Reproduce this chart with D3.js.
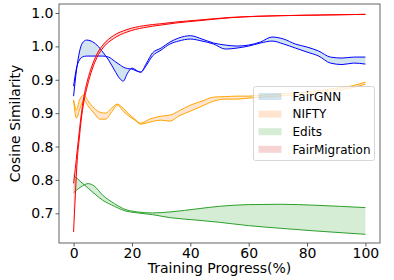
<!DOCTYPE html>
<html><head><meta charset="utf-8">
<script src="https://cdn.jsdelivr.net/npm/d3@7"></script>
<style>html,body{margin:0;padding:0;background:#fff;}svg{display:block;font-family:"DejaVu Sans",sans-serif;}</style>
</head><body>
<svg id="c" width="394" height="280"></svg>
<script>
// ---- data ----
const methods = ["FairGNN", "NIFTY", "Edits", "FairMigration"];

const fairgnnX = [0,1,2,3,4.5,6,8,10,12,14,16,17,18.5,20,22,23,25,27,30,33,36,40,44,48,52,56,60,64,68,72,76,80,84,88,92,96,100];
const fairgnnA = [0.8755,0.9145,0.9415,0.955,0.9595,0.958,0.952,0.9415,0.9295,0.9145,0.901,0.898,0.91,0.9175,0.913,0.9115,0.925,0.94,0.9475,0.9565,0.9625,0.966,0.961,0.955,0.952,0.9505,0.952,0.9565,0.964,0.961,0.9535,0.949,0.943,0.934,0.9325,0.934,0.934];
const fairgnnB = [0.8905,0.9175,0.9295,0.934,0.9355,0.9355,0.9355,0.9355,0.934,0.928,0.922,0.919,0.9168,0.916,0.9123,0.9115,0.922,0.9355,0.9445,0.9535,0.958,0.961,0.958,0.9535,0.946,0.9475,0.9505,0.955,0.958,0.9535,0.9475,0.9415,0.9355,0.925,0.9228,0.925,0.9235];

const niftyX = [0,1,2,3.5,5,7,9,11,13,15,17,19,21,23,26,30,33,36,40,44,48,52,56,60,65,70,75,80,85,90,95,100];
const niftyA = [0.8695,0.8545,0.8695,0.877,0.868,0.8575,0.8515,0.85,0.8575,0.8635,0.8575,0.8485,0.841,0.835,0.841,0.8455,0.847,0.853,0.862,0.868,0.874,0.8748,0.8755,0.8755,0.877,0.8785,0.88,0.8815,0.8845,0.8875,0.8905,0.8965];
const niftyB = [0.8695,0.8425,0.8545,0.8695,0.8605,0.85,0.841,0.841,0.8515,0.862,0.853,0.8455,0.8395,0.8335,0.8365,0.8395,0.838,0.8455,0.853,0.8605,0.868,0.871,0.871,0.8725,0.874,0.8755,0.877,0.8785,0.8815,0.8845,0.8875,0.8935];

const editsX = [0,2.5,5,7,10,14,17,22,27,33,43,50,60,71,83,100];
const editsA = [0.757,0.747,0.7375,0.730,0.7195,0.7105,0.7045,0.7005,0.698,0.6935,0.6895,0.6865,0.6815,0.6775,0.6735,0.6685];
const editsB = [0.731,0.7395,0.7445,0.741,0.727,0.7145,0.707,0.702,0.7005,0.702,0.707,0.7105,0.713,0.7135,0.712,0.7085];

const migX = [0,0.6,1.25,2,2.6,3.5,4.7,6.4,8,10.3,13.7,18.3,24,30,35,43,54,71,85,100];
const migA = [0.672,0.727,0.7795,0.814,0.8395,0.8665,0.8905,0.916,0.9333,0.949,0.9617,0.9715,0.978,0.982,0.985,0.9885,0.993,0.996,0.997,0.998];
const migB = [0.745,0.7675,0.7945,0.8245,0.847,0.874,0.898,0.922,0.9385,0.9535,0.9662,0.9752,0.981,0.984,0.9865,0.9895,0.9935,0.996,0.997,0.998];

const xTicks = [0,20,40,60,80,100];
const yTicks = [0.70,0.75,0.80,0.85,0.90,0.95,1.00];
const yTickLabels = ["0.7","0.8","0.8","0.9","0.9","1.0","1.0"];

const lineColors = ["#0000ff","#ffa500","#2ca02c","#ff0000"];
const fillColors = ["#1f77b4","#ff7f0e","#2ca02c","#d62728"];

// ---- chart ----
const svg = d3.select("#c");
const L=59, R=380, T=4, B=243;
const x = d3.scaleLinear().domain([-5,105]).range([L,R]);
const y = d3.scaleLinear().domain([0.6555,1.0135]).range([B,T]);

const series = [
  {xs:fairgnnX, a:fairgnnA, b:fairgnnB},
  {xs:niftyX, a:niftyA, b:niftyB},
  {xs:editsX, a:editsA, b:editsB},
  {xs:migX, a:migA, b:migB}
];

const g = svg.append("g");
series.forEach((s,i)=>{
  const pts = s.xs.map((v,k)=>({x:v,a:s.a[k],b:s.b[k]}));
  g.append("path").datum(pts)
    .attr("d", d3.area().x(d=>x(d.x)).y0(d=>y(d.a)).y1(d=>y(d.b)).curve(d3.curveMonotoneX))
    .attr("fill", fillColors[i]).attr("fill-opacity",0.2);
  ["a","b"].forEach(k=>{
    g.append("path").datum(pts)
      .attr("d", d3.line().x(d=>x(d.x)).y(d=>y(d[k])).curve(d3.curveMonotoneX))
      .attr("fill","none").attr("stroke",lineColors[i]).attr("stroke-width",1);
  });
});

// axes
const xAxis = svg.append("g").attr("transform",`translate(0,${B})`)
  .call(d3.axisBottom(x).tickValues(xTicks).tickSize(3.5).tickPadding(1.5).tickFormat(d3.format("d")));
const yAxis = svg.append("g").attr("transform",`translate(${L},0)`)
  .call(d3.axisLeft(y).tickValues(yTicks).tickSize(3.5).tickPadding(2).tickFormat((d,i)=>yTickLabels[i]));
[xAxis,yAxis].forEach(a=>{
  a.select(".domain").remove();
  a.selectAll("line").attr("stroke","#333").attr("stroke-width",0.8);
  a.selectAll("text").attr("font-size",14).attr("font-family","DejaVu Sans").attr("fill","#000");
});
svg.append("rect").attr("x",L).attr("y",T).attr("width",R-L).attr("height",B-T)
  .attr("fill","none").attr("stroke","#555").attr("stroke-width",0.9);

svg.append("text").attr("x",(L+R)/2).attr("y",273).attr("text-anchor","middle")
  .attr("font-size",14).text("Training Progress(%)");
svg.append("text").attr("transform",`translate(20,${(T+B)/2}) rotate(-90)`).attr("text-anchor","middle")
  .attr("font-size",14).text("Cosine Similarity");

// legend
const lg = svg.append("g").attr("transform","translate(253.5,86.5)");
lg.append("rect").attr("width",121).attr("height",74).attr("rx",2)
  .attr("fill","#fff").attr("fill-opacity",0.8).attr("stroke","#ccc").attr("stroke-width",0.8);
methods.forEach((m,i)=>{
  const ry = 10 + i*17.6;
  lg.append("rect").attr("x",5).attr("y",ry-3.5).attr("width",23).attr("height",7)
    .attr("fill",fillColors[i]).attr("fill-opacity",0.2);
  lg.append("text").attr("x",39).attr("y",ry+4.3).attr("font-size",12).text(m);
});
</script>
</body></html>
